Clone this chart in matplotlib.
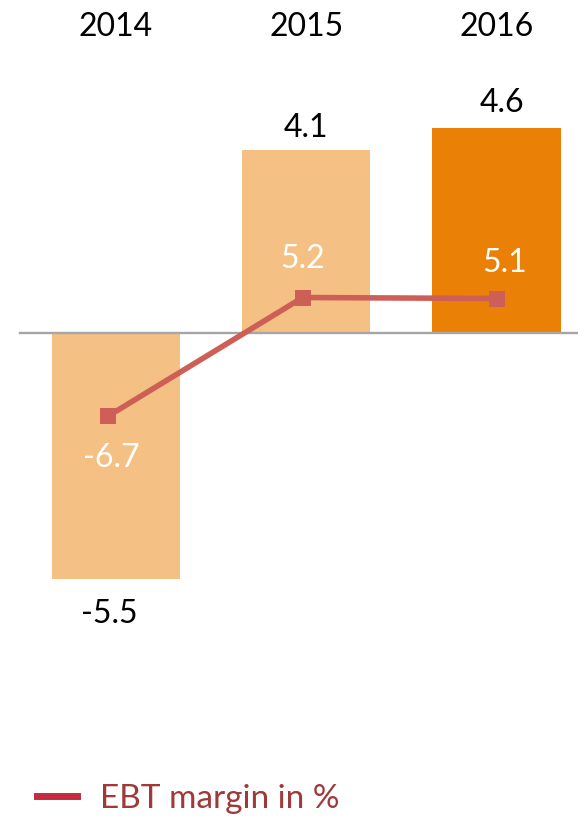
import matplotlib
matplotlib.use("Agg")
import matplotlib.pyplot as plt
from matplotlib.lines import Line2D

# ---- data ----
years = ["2014", "2015", "2016"]
ebt_values = [-5.5, 4.1, 4.6]          # bars
ebt_value_labels = ["-5.5", "4.1", "4.6"]
margin_values = [-6.7, 5.2, 5.1]       # line, EBT margin in %
margin_labels = ["-6.7", "5.2", "5.1"]
legend_label = "EBT margin in %"

# ---- style / layout ----
W, H, DPI = 578, 819, 100
bar_colors = ["#F4C083", "#F4C083", "#EA8006"]
line_color = "#CD5F57"
legend_line_color = "#C42C3E"
legend_text_color = "#9E3A3A"
zero_color = "#A6A6A6"
FONT = "Lato"
FS = 23
LEG_FS = 24

plt.rcParams["font.family"] = [FONT, "DejaVu Sans"]

fig = plt.figure(figsize=(W / DPI, H / DPI), dpi=DPI)
ax = fig.add_axes([0, 0, 1, 1])
ax.set_axis_off()

# pixel mapping for bar axes: category i -> 116 + 190.25*i px; value -> 44.6 px/unit, zero at 333.3 px
bx0, bdx = 116.0, 190.25
by0, bdy = 333.3, 44.6
ax.set_xlim(-bx0 / bdx, (W - bx0) / bdx)
ax.set_ylim(-(H - by0) / bdy, by0 / bdy)

x = list(range(len(years)))
ax.bar(x, ebt_values, width=128 / bdx, color=bar_colors, zorder=2)

# zero line
ax.axhline(0, xmin=20 / W, xmax=1, color=zero_color, lw=1.7, zorder=3)

# year labels
for xi, yr in zip(x, years):
    ax.text(xi, 1 - 36.5 / H, yr, transform=ax.get_xaxis_transform(),
            ha="center", va="baseline", fontsize=FS, color="black")

# bar value labels (offsets in points: dx, dy to baseline)
bar_label_offsets = [(-4.7, -32.0), (0, 9.7), (4.3, 11.6)]
for xi, v, lab, off in zip(x, ebt_values, ebt_value_labels, bar_label_offsets):
    ax.annotate(lab, (xi, v), xytext=off, textcoords="offset points",
                ha="center", va="baseline", fontsize=FS, color="black", zorder=5)

# line on its own axes
ax2 = fig.add_axes([0, 0, 1, 1])
ax2.set_axis_off()
ax2.patch.set_alpha(0)
lx0, ldx = 108.2, 194.5
ly0, ldy = 349.3, 9.96
ax2.set_xlim(-lx0 / ldx, (W - lx0) / ldx)
ax2.set_ylim(-(H - ly0) / ldy, ly0 / ldy)
ax2.plot(x, margin_values, color=line_color, lw=4.0, marker="s",
         markersize=11, markeredgewidth=0, zorder=4)

line_label_offsets = [(2.2, -36.7), (0, 21.2), (5.0, 19.1)]
for xi, v, lab, off in zip(x, margin_values, margin_labels, line_label_offsets):
    ax2.annotate(lab, (xi, v), xytext=off, textcoords="offset points",
                 ha="center", va="baseline", fontsize=FS, color="white", zorder=5)

# legend
em = LEG_FS * DPI / 72
handle = Line2D([], [], color=legend_line_color, lw=5.0)
leg = fig.legend([handle], [legend_label], loc="center left",
                 bbox_to_anchor=(37 / W, 1 - 799 / H), frameon=False,
                 fontsize=LEG_FS, handlelength=40 / em,
                 handletextpad=(100 - 77) / em,
                 borderpad=0, borderaxespad=0)
for t in leg.get_texts():
    t.set_color(legend_text_color)

fig.savefig("out.png", dpi=DPI)
